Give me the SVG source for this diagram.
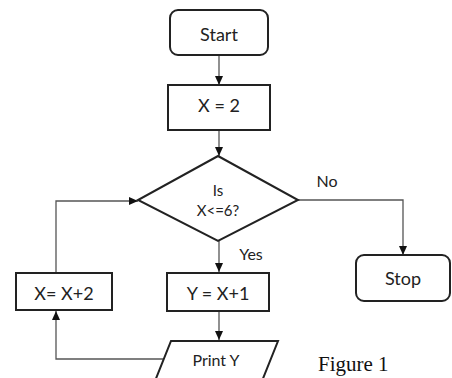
<svg xmlns="http://www.w3.org/2000/svg" width="452" height="378" viewBox="0 0 452 378">
<style>
.box{fill:#fff;stroke:#222;stroke-width:2}
.con{fill:none;stroke:#555;stroke-width:1.3}
.t{font-family:Lato,"Open Sans","Liberation Sans",sans-serif;font-size:18px;fill:#222;text-anchor:middle}
.s{font-size:15px}
.m{font-size:16px}
.fig{font-family:"Liberation Serif",serif;font-size:21px;fill:#111}
</style>
<defs>
<marker id="ah" markerWidth="10" markerHeight="10" refX="9" refY="5" orient="auto" markerUnits="userSpaceOnUse">
<path d="M0,1 L9,5 L0,9 Z" fill="#111"/>
</marker>
</defs>
<rect width="452" height="378" fill="#fff"/>
<g id="connectors">
<path class="con" d="M219,55 V85" marker-end="url(#ah)"/>
<path class="con" d="M219,130 V156" marker-end="url(#ah)"/>
<path class="con" d="M219,240 V272" marker-end="url(#ah)"/>
<path class="con" d="M219,311 V340" marker-end="url(#ah)"/>
<path class="con" d="M164,359 H56 V311" marker-end="url(#ah)"/>
<path class="con" d="M56,273 V201 H138" marker-end="url(#ah)"/>
<path class="con" d="M298,200 H403 V255" marker-end="url(#ah)"/>
</g>
<g id="start">
<rect class="box" x="170" y="10" width="98" height="45" rx="8"/>
<text class="t" x="219" y="41">Start</text>
</g>
<g id="x2">
<rect class="box" x="168" y="85" width="102" height="45"/>
<text class="t" x="219" y="112">X = 2</text>
</g>
<g id="decision">
<polygon class="box" points="218,156 298,200 218,241 138,200"/>
<text class="t s" x="218" y="196">Is</text>
<text class="t s" x="218" y="216">X&lt;=6?</text>
</g>
<g id="yes-label"><text class="t m" x="251" y="260">Yes</text></g>
<g id="no-label"><text class="t m" x="327" y="187">No</text></g>
<g id="y">
<rect class="box" x="167" y="273" width="102" height="38"/>
<text class="t" x="218" y="300">Y = X+1</text>
</g>
<g id="xinc">
<rect class="box" x="16" y="273" width="96" height="37"/>
<text class="t" x="64" y="300">X= X+2</text>
</g>
<g id="print">
<polygon class="box" points="171,341 278,341 262,381 155,381"/>
<text class="t m" x="216" y="366">Print Y</text>
</g>
<g id="stop">
<rect class="box" x="356" y="255" width="94" height="46" rx="8"/>
<text class="t" x="403" y="285">Stop</text>
</g>
<g id="caption"><text class="fig" x="318" y="371">Figure 1</text></g>
</svg>
